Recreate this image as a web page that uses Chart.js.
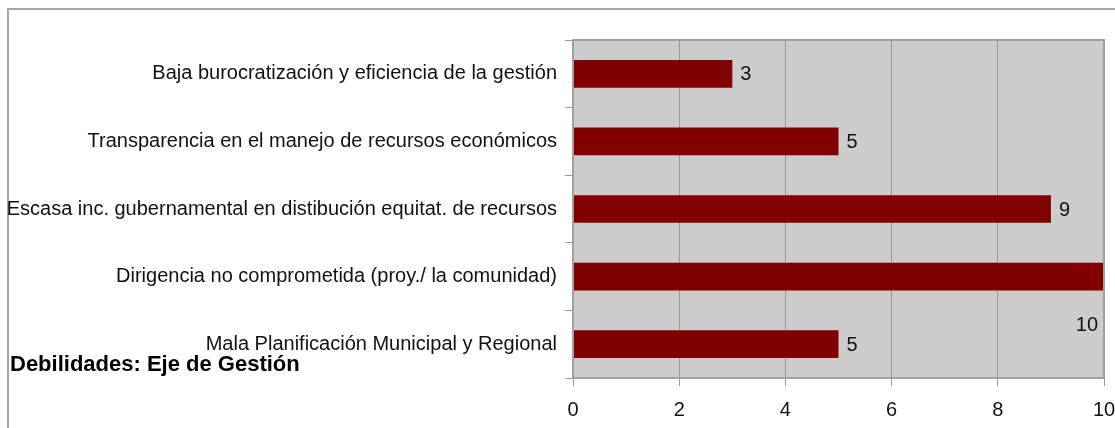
<!DOCTYPE html>
<html>
<head>
<meta charset="utf-8">
<script src="https://cdn.jsdelivr.net/npm/chart.js@4/dist/chart.umd.min.js"></script>
<style>
  html,body{margin:0;padding:0;background:#fff;}
  #wrap{position:relative;width:1115px;height:428px;overflow:hidden;}
  #frame{position:absolute;left:7px;top:8px;right:-5px;bottom:-5px;border-left:2px solid #a6a6a6;border-top:2px solid #a6a6a6;}
  #title{position:absolute;left:10px;top:351px;font:bold 22px 'Liberation Sans',Arial,sans-serif;color:#000;}
  canvas{position:absolute;left:0;top:0;}
</style>
</head>
<body>
<div id="wrap">
  <div id="frame"></div>
  <canvas id="c" width="1115" height="428"></canvas>
  <div id="title">Debilidades: Eje de Gestión</div>
</div>
<script>
// categories top -> bottom
const categories=[
  'Baja burocratización y eficiencia de la gestión',
  'Transparencia en el manejo de recursos económicos',
  'Escasa inc. gubernamental en distibución equitat. de recursos',
  'Dirigencia no comprometida (proy./ la comunidad)',
  'Mala Planificación Municipal y Regional'
];
const values=[3,5,9,10,5];
const xTicks=[0,2,4,6,8,10];

const FONT="'Liberation Sans',Arial,sans-serif";

// plot background + border
const plotBg={
  id:'plotBg',
  beforeDraw(ch){
    const a=ch.chartArea,c=ch.ctx;
    c.save();
    c.fillStyle='#cccccc';
    c.fillRect(a.left,a.top,a.right-a.left,a.bottom-a.top);
    c.restore();
  },
  afterDatasetsDraw(ch){
    const a=ch.chartArea,c=ch.ctx;
    c.save();
    c.strokeStyle='#a0a0a0';c.lineWidth=2;
    c.strokeRect(a.left,a.top,a.right-a.left,a.bottom-a.top);
    c.restore();
  }
};

// value labels next to bar ends
const valLabels={
  id:'valLabels',
  afterDatasetsDraw(ch){
    const c=ch.ctx,a=ch.chartArea;
    const meta=ch.getDatasetMeta(0);
    c.save();
    c.font='20px '+FONT;c.fillStyle='#111';c.textBaseline='middle';
    meta.data.forEach((bar,i)=>{
      const txt=String(values[i]);
      const w=c.measureText(txt).width;
      if(bar.x+8+w>a.right){
        c.textAlign='right';
        c.fillText(txt,a.right-6,bar.y+49);
      }else{
        c.textAlign='left';
        c.fillText(txt,bar.x+8,bar.y+1);
      }
    });
    c.restore();
  }
};

new Chart(document.getElementById('c'),{
  type:'bar',
  data:{labels:categories,datasets:[{data:values,backgroundColor:'#800000',barPercentage:0.41,categoryPercentage:1}]},
  options:{
    indexAxis:'y',responsive:false,animation:false,
    layout:{padding:{top:40,right:11,bottom:0,left:0}},
    plugins:{legend:{display:false},tooltip:{enabled:false}},
    scales:{
      x:{min:0,max:10,
        afterBuildTicks(s){s.ticks=xTicks.map(v=>({value:v}));},
        afterFit(s){s.height=50;s.paddingLeft=0;s.paddingRight=0;},
        grid:{color:'#999',lineWidth:1,tickLength:8,drawTicks:true},
        border:{display:false},
        ticks:{color:'#111',font:{size:20,family:FONT},padding:12,maxRotation:0}
      },
      y:{
        afterFit(s){s.width=573;s.paddingTop=0;s.paddingBottom=0;},
        grid:{drawOnChartArea:false,color:'#999',tickLength:8},
        border:{display:false},
        ticks:{color:'#111',font:{size:20,family:FONT},padding:8}
      }
    }
  },
  plugins:[plotBg,valLabels]
});
</script>
</body>
</html>
